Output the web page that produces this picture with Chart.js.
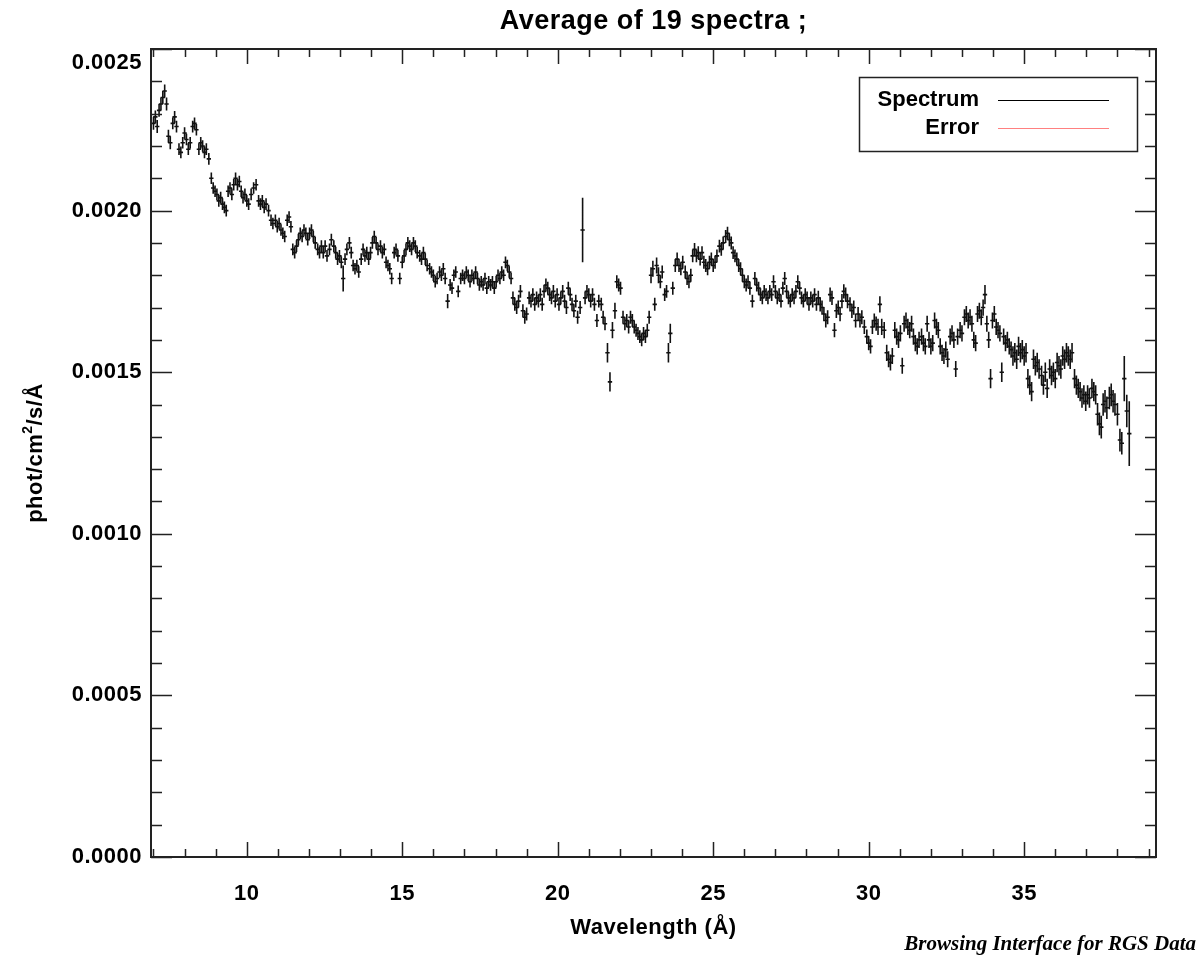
<!DOCTYPE html>
<html lang="en">
<head>
<meta charset="UTF-8">
<title>Average of 19 spectra</title>
<script src="https://cdn.jsdelivr.net/npm/chart.js"></script>
<style>
    body { margin: 0; background: #ffffff; }
    #wrap { width: 1201px; height: 960px; }
</style>
</head>
<body>
<div id="wrap"><canvas id="spec" width="1201" height="960"></canvas></div>
<script>
// wavelength bins (Angstrom)
const wavelength = [
    7.00, 7.06, 7.12, 7.18, 7.24, 7.30, 7.36, 7.42, 7.48, 7.54,
    7.62, 7.68, 7.74, 7.82, 7.88, 7.94, 8.00, 8.06, 8.12, 8.18,
    8.26, 8.32, 8.38, 8.46, 8.52, 8.58, 8.64, 8.70, 8.78, 8.86,
    8.92, 8.98, 9.04, 9.10, 9.16, 9.22, 9.28, 9.34, 9.40, 9.46,
    9.52, 9.58, 9.64, 9.70, 9.76, 9.82, 9.88, 9.94, 10.00, 10.06,
    10.14, 10.22, 10.30, 10.38, 10.44, 10.50, 10.56, 10.62, 10.70, 10.78,
    10.84, 10.92, 10.98, 11.04, 11.10, 11.16, 11.22, 11.30, 11.36, 11.42,
    11.48, 11.54, 11.60, 11.66, 11.72, 11.78, 11.84, 11.90, 11.96, 12.02,
    12.08, 12.14, 12.20, 12.28, 12.34, 12.40, 12.46, 12.52, 12.58, 12.66,
    12.72, 12.80, 12.86, 12.92, 12.98, 13.04, 13.10, 13.16, 13.22, 13.30,
    13.36, 13.42, 13.48, 13.54, 13.60, 13.68, 13.74, 13.80, 13.86, 13.92,
    13.98, 14.04, 14.10, 14.16, 14.22, 14.30, 14.36, 14.42, 14.48, 14.54,
    14.60, 14.66, 14.74, 14.80, 14.86, 14.92, 15.00, 15.06, 15.12, 15.18,
    15.24, 15.30, 15.36, 15.42, 15.48, 15.56, 15.62, 15.68, 15.74, 15.80,
    15.88, 15.94, 16.00, 16.06, 16.12, 16.20, 16.26, 16.32, 16.38, 16.46,
    16.54, 16.60, 16.66, 16.72, 16.80, 16.88, 16.94, 17.00, 17.06, 17.12,
    17.18, 17.24, 17.30, 17.36, 17.42, 17.48, 17.54, 17.60, 17.66, 17.72,
    17.78, 17.84, 17.90, 17.96, 18.02, 18.08, 18.14, 18.20, 18.26, 18.32,
    18.38, 18.44, 18.50, 18.56, 18.62, 18.68, 18.74, 18.80, 18.88, 18.94,
    19.00, 19.08, 19.14, 19.20, 19.26, 19.32, 19.38, 19.44, 19.50, 19.56,
    19.62, 19.68, 19.74, 19.80, 19.86, 19.92, 19.98, 20.04, 20.10, 20.16,
    20.22, 20.28, 20.34, 20.40, 20.46, 20.52, 20.58, 20.64, 20.72, 20.80,
    20.88, 20.94, 21.00, 21.06, 21.12, 21.18, 21.26, 21.32, 21.40, 21.46,
    21.52, 21.60, 21.68, 21.76, 21.84, 21.90, 21.96, 22.02, 22.10, 22.16,
    22.22, 22.28, 22.34, 22.40, 22.46, 22.52, 22.58, 22.64, 22.70, 22.76,
    22.82, 22.88, 22.94, 23.00, 23.06, 23.12, 23.18, 23.24, 23.30, 23.36,
    23.44, 23.50, 23.56, 23.62, 23.70, 23.78, 23.84, 23.90, 23.96, 24.02,
    24.10, 24.16, 24.22, 24.28, 24.34, 24.40, 24.46, 24.52, 24.58, 24.64,
    24.70, 24.76, 24.82, 24.88, 24.94, 25.00, 25.06, 25.12, 25.20, 25.26,
    25.32, 25.40, 25.46, 25.52, 25.58, 25.64, 25.70, 25.76, 25.82, 25.88,
    25.94, 26.00, 26.06, 26.12, 26.18, 26.26, 26.34, 26.40, 26.46, 26.52,
    26.58, 26.64, 26.70, 26.76, 26.82, 26.88, 26.94, 27.00, 27.06, 27.12,
    27.18, 27.24, 27.30, 27.36, 27.42, 27.48, 27.54, 27.60, 27.66, 27.72,
    27.78, 27.84, 27.90, 27.96, 28.02, 28.08, 28.14, 28.20, 28.26, 28.32,
    28.38, 28.44, 28.50, 28.56, 28.62, 28.68, 28.76, 28.82, 28.90, 28.96,
    29.02, 29.08, 29.14, 29.20, 29.26, 29.32, 29.40, 29.46, 29.52, 29.58,
    29.66, 29.72, 29.78, 29.86, 29.94, 30.00, 30.06, 30.12, 30.18, 30.24,
    30.30, 30.36, 30.42, 30.50, 30.58, 30.64, 30.70, 30.76, 30.84, 30.90,
    30.96, 31.02, 31.08, 31.14, 31.20, 31.26, 31.32, 31.38, 31.44, 31.50,
    31.56, 31.62, 31.70, 31.76, 31.82, 31.88, 31.94, 32.00, 32.06, 32.12,
    32.18, 32.24, 32.30, 32.36, 32.42, 32.48, 32.54, 32.62, 32.68, 32.74,
    32.80, 32.86, 32.94, 33.00, 33.08, 33.14, 33.20, 33.26, 33.32, 33.38,
    33.44, 33.50, 33.56, 33.62, 33.68, 33.74, 33.80, 33.86, 33.92, 33.98,
    34.04, 34.10, 34.16, 34.22, 34.28, 34.34, 34.40, 34.46, 34.52, 34.58,
    34.64, 34.70, 34.76, 34.82, 34.88, 34.94, 35.00, 35.06, 35.12, 35.18,
    35.24, 35.30, 35.36, 35.42, 35.48, 35.56, 35.62, 35.68, 35.74, 35.82,
    35.88, 35.94, 36.00, 36.06, 36.12, 36.18, 36.24, 36.30, 36.36, 36.42,
    36.48, 36.54, 36.62, 36.68, 36.74, 36.80, 36.86, 36.92, 36.98, 37.04,
    37.10, 37.18, 37.24, 37.30, 37.36, 37.42, 37.48, 37.54, 37.60, 37.66,
    37.74, 37.80, 37.86, 37.92, 38.00, 38.08, 38.14, 38.22, 38.30, 38.38
];

// flux, phot/cm2/s/A
const flux = [
    0.00227, 0.00229, 0.00226, 0.00231, 0.00233, 0.00235, 0.00237, 0.00233, 0.00223, 0.00221,
    0.00227, 0.00229, 0.00226, 0.00219, 0.00218, 0.00221, 0.00224, 0.00222, 0.00219, 0.00221,
    0.00226, 0.00227, 0.00225, 0.00219, 0.00221, 0.00220, 0.00218, 0.00219, 0.00216, 0.00210,
    0.00207, 0.00206, 0.00205, 0.00203, 0.00204, 0.00202, 0.00201, 0.00200, 0.00206, 0.00207,
    0.00205, 0.00208, 0.00210, 0.00208, 0.00209, 0.00206, 0.00204, 0.00205, 0.00203, 0.00202,
    0.00205, 0.00207, 0.00208, 0.00203, 0.00202, 0.00203, 0.00201, 0.00202, 0.00200, 0.00197,
    0.00196, 0.00197, 0.00195, 0.00196, 0.00194, 0.00193, 0.00192, 0.00197, 0.00198, 0.00195,
    0.00188, 0.00187, 0.00189, 0.00191, 0.00193, 0.00192, 0.00194, 0.00193, 0.00191, 0.00193,
    0.00194, 0.00192, 0.00190, 0.00188, 0.00187, 0.00189, 0.00187, 0.00189, 0.00186, 0.00188,
    0.00191, 0.00189, 0.00187, 0.00185, 0.00186, 0.00184, 0.00179, 0.00185, 0.00188, 0.00190,
    0.00187, 0.00183, 0.00182, 0.00183, 0.00181, 0.00185, 0.00188, 0.00186, 0.00187, 0.00185,
    0.00187, 0.00190, 0.00192, 0.00190, 0.00188, 0.00189, 0.00187, 0.00188, 0.00184, 0.00183,
    0.00182, 0.00179, 0.00187, 0.00188, 0.00186, 0.00179, 0.00184, 0.00186, 0.00188, 0.00190,
    0.00189, 0.00188, 0.00190, 0.00189, 0.00187, 0.00186, 0.00185, 0.00187, 0.00185, 0.00183,
    0.00182, 0.00181, 0.00180, 0.00178, 0.00179, 0.00181, 0.00180, 0.00182, 0.00179, 0.00172,
    0.00177, 0.00176, 0.00180, 0.00181, 0.00175, 0.00179, 0.00180, 0.00179, 0.00181, 0.00180,
    0.00178, 0.00180, 0.00179, 0.00181, 0.00179, 0.00177, 0.00178, 0.00177, 0.00179, 0.00176,
    0.00178, 0.00177, 0.00178, 0.00176, 0.00178, 0.00180, 0.00179, 0.00181, 0.00180, 0.00184,
    0.00183, 0.00181, 0.00179, 0.00173, 0.00171, 0.00170, 0.00172, 0.00175, 0.00169, 0.00167,
    0.00168, 0.00173, 0.00172, 0.00174, 0.00171, 0.00173, 0.00172, 0.00174, 0.00171, 0.00175,
    0.00177, 0.00176, 0.00174, 0.00173, 0.00175, 0.00172, 0.00174, 0.00171, 0.00173, 0.00175,
    0.00172, 0.00170, 0.00176, 0.00174, 0.00171, 0.00169, 0.00172, 0.00167, 0.00170, 0.00194,
    0.00173, 0.00175, 0.00174, 0.00172, 0.00174, 0.00171, 0.00166, 0.00172, 0.00171, 0.00167,
    0.00165, 0.00156, 0.00147, 0.00163, 0.00169, 0.00178, 0.00177, 0.00176, 0.00167, 0.00165,
    0.00166, 0.00164, 0.00167, 0.00166, 0.00164, 0.00163, 0.00162, 0.00161, 0.00160, 0.00162,
    0.00161, 0.00163, 0.00167, 0.00180, 0.00182, 0.00171, 0.00183, 0.00180, 0.00178, 0.00181,
    0.00174, 0.00175, 0.00156, 0.00162, 0.00176, 0.00183, 0.00185, 0.00183, 0.00182, 0.00184,
    0.00181, 0.00179, 0.00178, 0.00180, 0.00186, 0.00188, 0.00186, 0.00187, 0.00185, 0.00187,
    0.00184, 0.00183, 0.00182, 0.00184, 0.00185, 0.00183, 0.00184, 0.00186, 0.00189, 0.00188,
    0.00190, 0.00192, 0.00193, 0.00191, 0.00190, 0.00187, 0.00186, 0.00185, 0.00183, 0.00182,
    0.00180, 0.00178, 0.00177, 0.00178, 0.00176, 0.00172, 0.00179, 0.00177, 0.00176, 0.00174,
    0.00173, 0.00175, 0.00174, 0.00173, 0.00175, 0.00174, 0.00178, 0.00175, 0.00173, 0.00174,
    0.00172, 0.00176, 0.00179, 0.00175, 0.00173, 0.00172, 0.00174, 0.00173, 0.00175, 0.00178,
    0.00176, 0.00173, 0.00172, 0.00174, 0.00173, 0.00171, 0.00173, 0.00172, 0.00174, 0.00171,
    0.00173, 0.00171, 0.00170, 0.00168, 0.00166, 0.00167, 0.00174, 0.00173, 0.00163, 0.00169,
    0.00170, 0.00168, 0.00172, 0.00175, 0.00174, 0.00172, 0.00171, 0.00169, 0.00170, 0.00166,
    0.00168, 0.00166, 0.00167, 0.00164, 0.00161, 0.00159, 0.00158, 0.00164, 0.00166, 0.00165,
    0.00164, 0.00171, 0.00164, 0.00163, 0.00156, 0.00154, 0.00153, 0.00155, 0.00163, 0.00161,
    0.00160, 0.00162, 0.00152, 0.00165, 0.00166, 0.00164, 0.00163, 0.00165, 0.00161, 0.00159,
    0.00158, 0.00160, 0.00161, 0.00159, 0.00158, 0.00165, 0.00160, 0.00158, 0.00159, 0.00166,
    0.00164, 0.00163, 0.00158, 0.00156, 0.00155, 0.00157, 0.00154, 0.00161, 0.00162, 0.00160,
    0.00151, 0.00161, 0.00163, 0.00162, 0.00167, 0.00168, 0.00166, 0.00167, 0.00165, 0.00160,
    0.00159, 0.00168, 0.00169, 0.00167, 0.00170, 0.00174, 0.00165, 0.00160, 0.00148, 0.00166,
    0.00168, 0.00164, 0.00163, 0.00162, 0.00150, 0.00161, 0.00159, 0.00160, 0.00158, 0.00157,
    0.00155, 0.00156, 0.00154, 0.00158, 0.00156, 0.00157, 0.00155, 0.00156, 0.00148, 0.00146,
    0.00144, 0.00154, 0.00152, 0.00153, 0.00151, 0.00149, 0.00146, 0.00150, 0.00145, 0.00151,
    0.00149, 0.00150, 0.00148, 0.00153, 0.00152, 0.00151, 0.00155, 0.00154, 0.00156, 0.00155,
    0.00154, 0.00156, 0.00148, 0.00146, 0.00145, 0.00144, 0.00142, 0.00143, 0.00141, 0.00143,
    0.00142, 0.00145, 0.00144, 0.00143, 0.00137, 0.00134, 0.00133, 0.00140, 0.00141, 0.00139,
    0.00142, 0.00143, 0.00141, 0.00140, 0.00137, 0.00129, 0.00128, 0.00148, 0.00138, 0.00131
];

// half error bars, in units of 1e-5
const fluxErrE5 = [
    2, 2, 2, 2, 2, 2, 2, 2, 2, 2,
    1.8, 1.8, 1.8, 1.8, 1.8, 1.8, 1.8, 1.8, 1.8, 1.8,
    1.8, 1.8, 1.8, 1.8, 1.8, 1.8, 1.8, 1.8, 1.8, 1.8,
    1.8, 1.8, 1.8, 1.8, 1.8, 1.8, 1.8, 1.8, 1.8, 1.8,
    1.8, 1.8, 1.8, 1.8, 1.8, 1.8, 1.8, 1.8, 1.8, 1.8,
    1.8, 1.8, 1.8, 1.8, 1.8, 1.8, 1.8, 1.8, 1.8, 1.8,
    1.8, 1.8, 1.8, 1.8, 1.8, 1.8, 1.8, 1.8, 1.8, 1.8,
    1.8, 1.8, 1.8, 1.8, 1.8, 1.8, 1.8, 1.8, 1.8, 1.8,
    1.8, 1.8, 1.8, 1.8, 1.8, 1.8, 1.8, 1.8, 1.8, 1.8,
    1.8, 1.8, 1.8, 1.8, 1.8, 1.8, 4, 1.8, 1.8, 1.8,
    1.8, 1.8, 1.8, 1.8, 1.8, 1.8, 1.8, 1.8, 1.8, 1.8,
    1.8, 1.8, 1.8, 1.8, 1.8, 1.8, 1.8, 1.8, 1.8, 1.8,
    1.8, 1.8, 1.8, 1.8, 1.8, 1.8, 1.8, 1.8, 1.8, 1.8,
    1.8, 1.8, 1.8, 1.8, 1.8, 1.8, 1.8, 1.8, 1.8, 1.8,
    1.8, 1.8, 1.8, 1.8, 1.8, 1.8, 1.8, 1.8, 1.8, 2.2,
    1.8, 1.8, 1.8, 1.8, 1.8, 1.8, 1.8, 1.8, 1.8, 1.8,
    1.8, 1.8, 1.8, 1.8, 1.8, 1.8, 1.8, 1.8, 1.8, 1.8,
    1.8, 1.8, 1.8, 1.8, 1.8, 1.8, 1.8, 1.8, 1.8, 1.8,
    1.8, 1.8, 1.8, 2, 2, 2, 2, 2, 2, 2,
    2, 2, 2, 2, 2, 2, 2, 2, 2, 2,
    2, 2, 2, 2, 2, 2, 2, 2, 2, 2,
    2, 2, 2, 2, 2, 2, 2, 2, 2, 10,
    2, 2, 2, 2, 2, 2, 2, 2, 2, 2,
    2, 3, 3, 2.5, 2.5, 2, 2, 2, 2, 2,
    2, 2, 2, 2, 2, 2, 2, 2, 2, 2,
    2, 2, 2, 2.5, 2.5, 2, 2.5, 2.5, 2, 2,
    2, 2, 3, 3, 2, 2, 2, 2, 2, 2,
    2, 2, 2, 2, 2, 2, 2, 2, 2, 2,
    2, 2, 2, 2, 2, 2, 2, 2, 2, 2,
    2, 2, 2, 2, 2, 2, 2, 2, 2, 2,
    2, 2, 2, 2, 2, 2, 2, 2, 2, 2,
    2, 2, 2, 2, 2, 2, 2, 2, 2, 2,
    2, 2, 2, 2, 2, 2, 2, 2, 2, 2,
    2, 2, 2, 2, 2, 2, 2, 2, 2, 2,
    2.2, 2.2, 2.2, 2.2, 2.2, 2.2, 2.2, 2.2, 2.2, 2.2,
    2.2, 2.2, 2.2, 2.2, 2.2, 2.2, 2.2, 2.2, 2.2, 2.2,
    2.2, 2.2, 2.2, 2.2, 2.2, 2.2, 2.2, 2.2, 2.2, 2.2,
    2.5, 2.5, 2.5, 2.5, 2.5, 2.5, 2.5, 2.5, 2.5, 2.5,
    2.5, 2.5, 2.5, 2.5, 2.5, 2.5, 2.5, 2.5, 2.5, 2.5,
    2.5, 2.5, 2.5, 2.5, 2.5, 2.5, 2.5, 2.5, 2.5, 2.5,
    2.5, 2.5, 2.5, 2.5, 2.5, 2.5, 2.5, 2.5, 2.5, 2.5,
    2.5, 2.5, 2.5, 2.5, 2.5, 2.5, 2.5, 2.5, 2.5, 2.5,
    2.5, 2.5, 2.5, 2.5, 2.5, 3, 2.5, 2.5, 3, 2.5,
    2.5, 2.5, 2.5, 2.5, 3, 2.5, 2.5, 2.5, 2.5, 2.5,
    3, 3, 3, 3, 3, 3, 3, 3, 3, 3,
    3, 3, 3, 3, 3, 3, 3, 3, 3, 3,
    3, 3, 3, 3, 3, 3, 3, 3, 3, 3,
    3, 3, 3, 3, 3, 3, 3, 3, 3, 3,
    3, 3, 3, 3, 3.5, 3.5, 3.5, 3.5, 3.5, 3.5,
    3.5, 3.5, 3.5, 3.5, 3.5, 3.5, 3.5, 7, 5, 10
];

const xMajorTicks = [10, 15, 20, 25, 30, 35];
const yMajorTicks = [0, 0.0005, 0.0010, 0.0015, 0.0020, 0.0025];
const yTickLabels = ["0.0000", "0.0005", "0.0010", "0.0015", "0.0020", "0.0025"];
const legendLabels = ["Spectrum", "Error"];
const legendColors = ["#000000", "#ff8080"];

const binHalf = 0.07;
const sansFont = '"Liberation Sans", Arial, sans-serif';

const points = wavelength.map((w, i) => ({ x: w, y: flux[i], err: fluxErrE5[i] * 1e-5 }));

// IDL style frame, ticks, labels and error crosses
const idlPlot = {
    id: "idlPlot",
    afterDatasetsDraw(chart) {
        const ctx = chart.ctx;
        const xs = chart.scales.x, ys = chart.scales.y;
        ctx.save();
        ctx.strokeStyle = "#111";
        ctx.lineWidth = 1.6;
        ctx.beginPath();
        chart.data.datasets[0].data.forEach(p => {
            const px = xs.getPixelForValue(p.x);
            const py = ys.getPixelForValue(p.y);
            ctx.moveTo(px, ys.getPixelForValue(p.y - p.err));
            ctx.lineTo(px, ys.getPixelForValue(p.y + p.err));
            ctx.moveTo(xs.getPixelForValue(p.x - binHalf), py);
            ctx.lineTo(xs.getPixelForValue(p.x + binHalf), py);
        });
        ctx.stroke();
        ctx.restore();
    },
    afterDraw(chart) {
        const ctx = chart.ctx;
        const a = chart.chartArea;
        const xs = chart.scales.x, ys = chart.scales.y;
        ctx.save();
        ctx.strokeStyle = "#222";
        ctx.fillStyle = "#000";

        // box
        ctx.lineWidth = 2;
        ctx.strokeRect(a.left, a.top, a.right - a.left, a.bottom - a.top);

        // x ticks (bottom and top), pointing inward
        ctx.lineWidth = 1.5;
        ctx.beginPath();
        for (let v = 7; v <= 39; v++) {
            const px = Math.round(xs.getPixelForValue(v)) + 0.5;
            const len = xMajorTicks.includes(v) ? 15 : 8;
            ctx.moveTo(px, a.bottom); ctx.lineTo(px, a.bottom - len);
            ctx.moveTo(px, a.top); ctx.lineTo(px, a.top + len);
        }
        // y ticks (left and right)
        for (let k = 0; k <= 25; k++) {
            const v = k * 0.0001;
            const py = Math.round(ys.getPixelForValue(v)) + 0.5;
            const len = k % 5 === 0 ? 21 : 11;
            ctx.moveTo(a.left, py); ctx.lineTo(a.left + len, py);
            ctx.moveTo(a.right, py); ctx.lineTo(a.right - len, py);
        }
        ctx.stroke();

        // tick labels
        ctx.letterSpacing = "0.5px";
        ctx.font = "bold 22px " + sansFont;
        ctx.textAlign = "center";
        ctx.textBaseline = "middle";
        xMajorTicks.forEach(v => {
            ctx.fillText(String(v), xs.getPixelForValue(v), a.bottom + 37);
        });
        ctx.textAlign = "right";
        yMajorTicks.forEach((v, i) => {
            const py = Math.max(ys.getPixelForValue(v), a.top + 14);
            ctx.fillText(yTickLabels[i], a.left - 9, py);
        });

        // axis titles
        ctx.textAlign = "center";
        ctx.fillText("Wavelength (\u00c5)", (a.left + a.right) / 2, 928);

        ctx.save();
        ctx.translate(36, (a.top + a.bottom) / 2);
        ctx.rotate(-Math.PI / 2);
        const p1 = "phot/cm", p2 = "2", p3 = "/s/\u00c5";
        const w1 = ctx.measureText(p1).width;
        ctx.font = "bold 14px " + sansFont;
        const w2 = ctx.measureText(p2).width;
        ctx.font = "bold 22px " + sansFont;
        const w3 = ctx.measureText(p3).width;
        let sx = -(w1 + w2 + w3) / 2;
        ctx.textAlign = "left";
        ctx.fillText(p1, sx, 0);
        ctx.font = "bold 14px " + sansFont;
        ctx.fillText(p2, sx + w1, -8);
        ctx.font = "bold 22px " + sansFont;
        ctx.fillText(p3, sx + w1 + w2, 0);
        ctx.restore();

        // title
        ctx.textAlign = "center";
        ctx.font = "bold 27px " + sansFont;
        ctx.fillText("Average of 19 spectra ;", (a.left + a.right) / 2, 22);

        // legend
        ctx.letterSpacing = "0px";
        ctx.lineWidth = 1.5;
        ctx.strokeStyle = "#222";
        ctx.strokeRect(859.5, 77.5, 278, 74);
        ctx.font = "bold 22px " + sansFont;
        ctx.textAlign = "right";
        legendLabels.forEach((lab, i) => {
            const ly = 100 + i * 28;
            ctx.fillText(lab, 979, ly);
            ctx.strokeStyle = legendColors[i];
            ctx.lineWidth = 1.2;
            ctx.beginPath();
            ctx.moveTo(998, ly + 0.5);
            ctx.lineTo(1109, ly + 0.5);
            ctx.stroke();
        });

        // footer note
        ctx.fillStyle = "#000";
        ctx.font = 'italic bold 21px "Liberation Serif", "Times New Roman", serif';
        ctx.textAlign = "right";
        ctx.fillText("Browsing Interface for RGS Data", 1196, 945);
        ctx.restore();
    }
};

new Chart(document.getElementById("spec").getContext("2d"), {
    type: "scatter",
    data: {
        datasets: [{
            label: "Spectrum",
            data: points,
            pointRadius: 0,
            pointHoverRadius: 0,
            showLine: false
        }]
    },
    options: {
        responsive: false,
        animation: false,
        devicePixelRatio: 1,
        layout: { padding: { left: 151, right: 45, top: 49, bottom: 103 } },
        plugins: {
            legend: { display: false },
            title: { display: false },
            tooltip: { enabled: false }
        },
        scales: {
            x: { type: "linear", min: 6.92, max: 39.24, display: false },
            y: { type: "linear", min: 0, max: 0.0025, display: false }
        }
    },
    plugins: [idlPlot]
});
</script>
</body>
</html>
